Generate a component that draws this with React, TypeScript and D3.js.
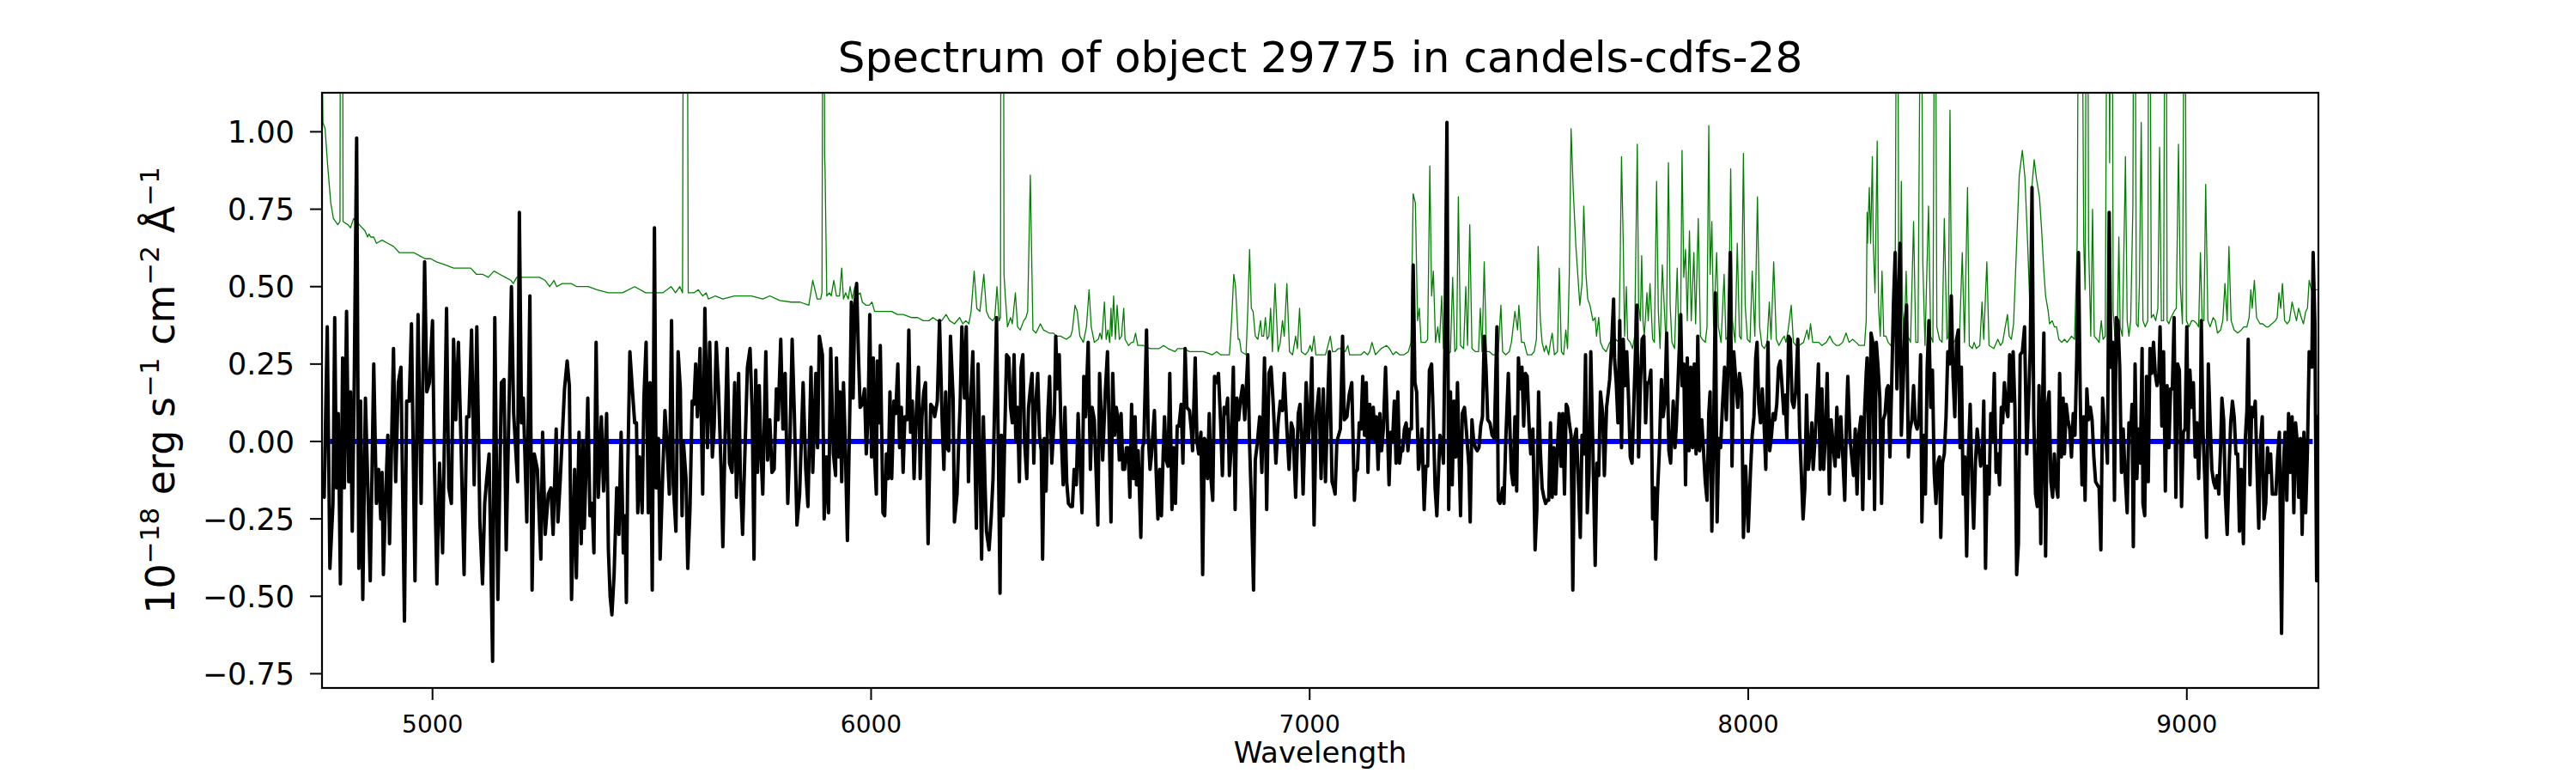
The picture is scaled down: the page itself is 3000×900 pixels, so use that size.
import React from "react";
import * as d3 from "d3";

// ---------- data (wavelength in Å, flux in 1e-18 erg/s/cm2/Å) ----------
const observedFlux: [number, number][] = [
  [4748,-0.10],[4753,-0.18],[4760,0.37],[4766,-0.41],[4773,-0.20],[4777,0.40],[4781,-0.15],[4785,0.09],[4790,-0.46],[4795,0.27],[4799,-0.15],[4804,0.42],[4809,-0.13],[4813,0.16],[4817,-0.29],[4821,0.12],[4827,0.98],[4832,-0.41],[4836,0.13],[4841,-0.51],[4847,0.14],[4852,-0.12],[4858,-0.45],[4866,0.25],[4872,-0.20],[4877,-0.09],[4882,-0.25],[4885,-0.10],[4888,-0.43],[4892,-0.23],[4898,0.02],[4902,-0.33],[4911,0.30],[4916,-0.13],[4922,0.19],[4928,0.24],[4936,-0.58],[4941,0.13],[4947,0.13],[4952,0.38],[4960,-0.45],[4967,0.41],[4974,-0.20],[4982,0.58],[4987,0.16],[4993,0.19],[5000,0.39],[5004,-0.05],[5010,-0.46],[5016,-0.07],[5023,-0.36],[5032,0.43],[5037,-0.15],[5043,-0.20],[5048,0.33],[5053,0.07],[5059,0.32],[5064,0.05],[5072,-0.43],[5078,0.08],[5083,0.08],[5089,0.36],[5095,-0.14],[5101,0.37],[5108,-0.26],[5114,-0.46],[5119,-0.20],[5123,-0.13],[5129,-0.04],[5137,-0.71],[5142,0.40],[5149,-0.51],[5157,0.19],[5163,0.20],[5168,-0.35],[5172,-0.06],[5180,0.50],[5185,0.09],[5194,-0.13],[5198,0.74],[5203,0.06],[5207,0.14],[5215,-0.26],[5222,0.47],[5227,-0.48],[5232,-0.04],[5239,-0.09],[5247,-0.38],[5251,0.03],[5257,-0.30],[5264,-0.17],[5270,-0.15],[5275,-0.30],[5282,0.04],[5286,-0.26],[5291,-0.13],[5301,0.17],[5307,0.26],[5312,0.18],[5317,-0.51],[5324,-0.09],[5328,-0.44],[5334,0.03],
  [5339,-0.33],[5343,0.00],[5346,-0.28],[5350,-0.09],[5354,0.14],[5359,-0.24],[5364,-0.20],[5368,-0.36],[5373,0.32],[5378,-0.18],[5385,0.08],[5390,-0.16],[5397,0.09],[5401,-0.35],[5405,-0.50],[5409,-0.56],[5414,-0.43],[5420,-0.15],[5425,-0.30],[5430,0.03],[5435,-0.36],[5439,-0.24],[5442,-0.52],[5445,-0.10],[5450,0.29],[5456,0.16],[5461,0.06],[5465,0.06],[5468,-0.23],[5472,-0.05],[5478,-0.23],[5482,0.14],[5487,0.32],[5492,-0.23],[5496,0.19],[5501,-0.48],[5506,0.69],[5510,-0.15],[5515,0.01],[5519,-0.38],[5525,-0.10],[5530,0.10],[5534,0.01],[5540,-0.17],[5545,0.39],[5549,-0.14],[5555,-0.29],[5560,0.29],[5565,0.17],[5569,-0.24],[5572,0.00],[5578,-0.12],[5582,-0.41],[5587,-0.22],[5592,0.13],[5596,0.12],[5600,0.25],[5604,0.08],[5610,0.30],[5616,-0.17],[5621,0.43],[5627,-0.02],[5632,0.32],[5638,-0.05],[5642,0.04],[5647,0.32],[5652,0.17],[5658,-0.09],[5662,-0.34],[5667,0.01],[5672,0.30],[5677,-0.07],[5683,-0.10],[5689,0.19],[5693,-0.18],[5698,0.22],[5702,-0.12],[5707,-0.30],[5711,-0.10],[5718,0.24],[5724,0.30],[5729,0.09],[5733,-0.38],[5737,0.23],[5741,-0.10],[5745,0.18],[5749,-0.04],[5753,-0.17],[5760,0.29],[5764,-0.06],[5769,0.07],[5774,-0.10],[5779,-0.09],[5784,0.17],[5788,0.07],[5794,0.33],[5799,0.04],[5804,0.22],[5810,-0.20],[5815,0.00],[5820,0.33],[5825,0.09],[5831,-0.27],[5837,-0.17],[5845,0.19],[5851,-0.09],[5856,-0.21],[5863,0.24],[5867,-0.10],[5874,0.22],[5878,-0.02],[5882,0.34],[5889,0.28],[5893,-0.25],[5898,-0.05],[5903,-0.23],[5908,0.30],[5914,-0.04],[5919,-0.11],[5921,0.27],
  [5926,-0.05],[5929,0.16],[5933,-0.13],[5937,0.19],[5941,0.00],[5946,-0.32],[5952,0.14],[5955,0.45],[5959,0.14],[5963,0.44],[5967,0.51],[5971,0.29],[5975,0.11],[5980,0.12],[5985,0.17],[5989,-0.04],[5993,0.08],[5997,0.41],[6001,-0.05],[6005,0.27],[6008,-0.05],[6012,-0.17],[6014,0.26],[6018,0.06],[6021,0.31],[6025,-0.04],[6027,-0.23],[6031,-0.24],[6035,-0.04],[6039,-0.12],[6043,0.16],[6047,-0.12],[6052,0.13],[6056,0.09],[6061,0.25],[6065,-0.02],[6069,0.11],[6073,-0.10],[6077,0.08],[6082,0.07],[6086,0.36],[6090,0.03],[6094,0.13],[6098,-0.12],[6103,0.09],[6108,0.24],[6112,-0.12],[6116,0.08],[6120,0.16],[6124,0.19],[6130,-0.33],[6136,0.12],[6141,0.11],[6145,0.08],[6151,0.13],[6156,0.39],[6162,0.07],[6166,-0.09],[6170,0.16],[6173,-0.02],[6177,-0.03],[6181,0.34],[6187,0.14],[6190,-0.26],[6196,-0.17],[6200,0.01],[6203,0.12],[6207,0.37],[6213,0.14],[6217,0.37],[6222,-0.13],[6227,0.13],[6232,0.29],[6236,0.01],[6240,-0.28],[6244,0.25],[6248,-0.05],[6252,-0.38],[6256,0.08],[6260,-0.15],[6263,-0.29],[6269,-0.35],[6274,-0.24],[6278,-0.12],[6282,0.14],[6286,0.40],[6290,-0.02],[6294,-0.49],[6297,0.02],[6301,-0.24],[6305,0.04],[6309,0.28],[6314,0.27],[6318,0.11],[6322,0.06],[6326,0.28],[6330,0.00],[6334,0.11],[6338,-0.13],[6342,0.24],[6346,0.28],[6350,0.00],[6355,-0.12],[6359,0.11],[6363,0.17],[6367,0.22],[6371,-0.07],[6374,0.09],[6380,0.22],[6384,0.02],[6388,-0.03],[6391,-0.38],[6395,0.01],[6399,-0.16],[6403,0.09],[6407,0.21],[6412,-0.07],[6418,0.09],[6421,0.34],[6425,0.17],[6429,0.28],[6433,0.04],[6438,-0.14],[6442,0.11],[6446,-0.13],[6450,-0.20],[6455,-0.21],[6459,-0.21],[6463,-0.09],[6468,-0.14],[6472,0.09],[6476,-0.05],[6481,-0.23],[6485,0.21],[6489,0.08],[6495,0.32],[6500,-0.09],[6504,0.11],[6509,0.07],
  [6513,-0.10],[6517,-0.27],[6521,0.22],[6525,0.08],[6528,-0.06],[6534,0.16],[6539,0.29],[6543,0.03],[6547,-0.26],[6551,0.22],[6555,0.02],[6559,0.11],[6562,0.08],[6566,-0.06],[6570,0.09],[6574,-0.09],[6578,-0.09],[6582,-0.02],[6586,-0.02],[6590,-0.18],[6594,0.12],[6598,-0.12],[6602,0.08],[6605,-0.14],[6609,-0.03],[6615,-0.31],[6619,-0.02],[6622,0.00],[6628,0.36],[6632,0.02],[6636,-0.09],[6639,-0.05],[6646,0.10],[6650,-0.10],[6654,-0.25],[6658,-0.09],[6662,-0.24],[6666,-0.04],[6669,0.08],[6673,-0.06],[6677,-0.08],[6681,0.22],[6686,-0.22],[6690,-0.02],[6694,-0.20],[6698,0.05],[6702,0.05],[6707,0.12],[6711,-0.07],[6716,0.30],[6720,0.11],[6726,0.10],[6730,0.04],[6733,-0.03],[6739,0.27],[6743,0.00],[6747,-0.04],[6752,0.03],[6756,-0.43],[6760,0.01],[6763,0.00],[6767,-0.12],[6771,0.09],[6775,-0.12],[6779,-0.19],[6783,0.21],[6788,0.19],[6792,0.22],[6797,0.06],[6801,-0.11],[6805,0.11],[6809,0.09],[6813,0.14],[6817,-0.11],[6821,-0.02],[6826,0.24],[6830,-0.22],[6834,0.14],[6838,0.07],[6842,0.13],[6847,0.18],[6852,0.07],[6859,0.28],[6863,-0.01],[6867,-0.19],[6872,-0.48],[6876,-0.06],[6881,0.00],[6886,0.08],[6891,-0.10],[6897,0.27],[6902,-0.22],[6907,0.22],[6912,0.24],[6917,0.12],[6923,-0.07],[6928,0.06],[6933,0.13],[6938,0.10],[6942,0.22],[6948,0.04],[6953,-0.09],[6958,0.06],[6962,0.04],[6968,-0.18],[6974,0.09],[6978,0.12],[6981,0.03],[6985,-0.17],[6992,0.19],[6997,0.00],[7001,0.09],[7005,0.27],[7010,-0.27],[7015,0.08],[7021,0.17],[7026,-0.12],[7031,0.17],[7036,-0.13],[7042,0.17],[7045,0.29],[7051,-0.13],[7055,-0.15],[7058,-0.17],[7062,0.00],[7066,0.02],[7070,0.04],[7075,0.34],[7079,0.07],[7085,0.08],[7090,0.15],[7096,0.19],
  [7102,-0.19],[7105,-0.10],[7109,-0.09],[7113,0.06],[7117,0.04],[7121,0.21],[7125,0.02],[7129,0.19],[7133,-0.10],[7137,0.12],[7141,0.01],[7145,0.11],[7149,0.00],[7152,0.08],[7156,-0.09],[7160,0.09],[7164,-0.03],[7168,0.04],[7173,0.24],[7177,0.06],[7181,-0.14],[7185,0.03],[7189,0.00],[7193,0.13],[7197,-0.07],[7201,0.16],[7205,-0.07],[7209,-0.02],[7212,-0.03],[7216,0.04],[7220,0.06],[7224,-0.03],[7228,0.04],[7232,0.04],[7236,0.57],[7240,0.19],[7244,0.16],[7248,-0.09],[7252,-0.05],[7256,0.04],[7261,-0.22],[7265,-0.08],[7269,-0.08],[7273,0.23],[7278,0.25],[7282,0.07],[7286,-0.15],[7290,-0.24],[7293,-0.13],[7297,0.02],[7301,0.00],[7305,-0.07],[7309,0.39],[7313,1.03],[7317,-0.22],[7321,0.16],[7325,-0.14],[7329,0.13],[7333,-0.05],[7337,0.19],[7340,0.00],[7344,-0.24],[7348,0.09],[7353,0.11],[7357,0.04],[7363,-0.08],[7366,-0.26],[7370,0.07],[7374,0.00],[7378,-0.02],[7382,-0.03],[7386,-0.02],[7390,0.05],[7394,0.08],[7398,0.34],[7402,0.24],[7406,0.07],[7411,0.06],[7416,0.02],[7421,0.01],[7427,0.37],[7430,-0.19],[7434,-0.20],[7440,-0.15],[7443,-0.20],[7447,0.00],[7453,0.22],[7457,0.02],[7460,-0.10],[7464,-0.14],[7468,0.08],[7472,-0.16],[7476,0.27],[7480,0.17],[7484,0.24],[7488,0.05],[7492,0.22],[7496,0.21],[7500,0.06],[7504,-0.04],[7509,0.04],[7514,-0.35],[7518,-0.22],[7522,0.16],[7526,-0.03],[7530,-0.15],[7534,-0.18],[7538,-0.20],[7541,-0.19],[7545,-0.19],[7549,0.06],[7553,-0.18],[7557,-0.02],[7561,-0.17],[7565,-0.02],[7569,0.09],[7573,-0.08],[7577,0.09],[7581,-0.17],[7585,0.12],[7588,0.11],[7592,0.06],[7596,0.02],[7600,-0.48],[7604,0.01],[7608,0.04],[7612,-0.10],[7617,-0.31],[7621,0.02],[7625,-0.04],[7629,0.28],[7633,-0.23],[7637,-0.10],[7641,0.29],[7646,-0.04],[7651,-0.40],[7655,-0.07],[7659,-0.11],[7663,0.16],[7668,0.09],[7672,-0.11],[7677,0.11],[7684,0.20],
  [7689,0.33],[7693,0.46],[7695,0.27],[7699,0.19],[7703,0.06],[7707,0.39],[7711,-0.02],[7715,0.33],[7719,0.18],[7723,0.29],[7727,0.14],[7731,-0.05],[7735,-0.07],[7739,0.12],[7742,0.25],[7746,0.44],[7750,-0.05],[7754,0.18],[7758,0.33],[7762,0.34],[7766,0.06],[7770,0.19],[7774,0.19],[7778,0.23],[7782,-0.25],[7786,-0.15],[7789,-0.38],[7793,-0.17],[7797,-0.04],[7802,0.20],[7806,0.08],[7810,0.13],[7814,0.35],[7819,-0.03],[7823,-0.07],[7829,0.13],[7833,-0.02],[7836,0.05],[7842,0.27],[7846,0.41],[7849,0.18],[7853,0.25],[7857,-0.14],[7861,0.27],[7865,-0.03],[7869,0.24],[7873,-0.02],[7877,0.25],[7881,-0.04],[7885,0.34],[7889,-0.03],[7894,0.07],[7898,-0.03],[7902,-0.13],[7906,-0.19],[7910,0.09],[7913,0.16],[7917,-0.29],[7921,0.02],[7925,0.48],[7929,-0.26],[7933,0.01],[7937,-0.02],[7941,0.11],[7946,0.24],[7950,0.07],[7954,0.24],[7959,0.61],[7963,-0.08],[7967,0.29],[7971,0.21],[7976,0.11],[7980,0.22],[7985,0.16],[7989,-0.31],[7994,-0.08],[8000,-0.29],[8005,-0.10],[8009,0.02],[8013,0.08],[8017,0.27],[8020,0.32],[8024,0.12],[8028,0.06],[8032,0.17],[8036,0.06],[8040,-0.09],[8045,0.32],[8049,-0.03],[8053,0.02],[8057,0.09],[8061,0.07],[8065,0.12],[8069,0.24],[8073,0.26],[8077,0.18],[8081,0.09],[8084,0.15],[8088,0.01],[8092,0.34],[8096,0.33],[8100,0.13],[8104,0.11],[8108,0.16],[8113,0.33],[8117,0.04],[8121,-0.10],[8125,-0.25],[8129,-0.15],[8133,0.15],[8137,-0.09],[8141,-0.03],[8145,0.06],[8148,-0.09],[8152,0.00],[8156,0.11],[8160,0.25],[8164,-0.09],[8168,0.17],[8172,-0.09],[8176,0.02],[8180,0.22],[8185,-0.17],[8189,0.07],[8194,-0.02],[8198,-0.08],[8202,0.11],[8206,-0.05],[8211,0.08],[8215,-0.03],[8220,-0.19],[8224,0.08],[8227,0.21],[8232,0.01],[8236,-0.05],[8240,-0.11],[8244,0.04],[8248,-0.17],[8252,0.02],[8257,0.08],[8261,-0.22],[8265,0.09],[8269,0.22],[8271,0.27],
  [8276,-0.12],[8280,0.35],[8284,0.32],[8288,-0.22],[8292,0.32],[8296,0.24],[8300,0.14],[8304,-0.20],[8308,0.07],[8312,0.09],[8316,0.17],[8319,0.18],[8323,-0.05],[8327,0.18],[8331,0.44],[8335,0.61],[8339,0.17],[8343,0.47],[8346,0.64],[8349,0.02],[8353,0.17],[8357,0.37],[8361,0.44],[8365,-0.05],[8369,0.04],[8373,0.07],[8377,0.18],[8381,0.06],[8385,0.04],[8389,0.07],[8393,0.28],[8396,-0.26],[8400,0.02],[8404,-0.17],[8408,0.24],[8412,0.39],[8416,0.11],[8420,0.23],[8424,-0.10],[8428,-0.20],[8432,-0.07],[8436,-0.05],[8439,-0.31],[8443,-0.07],[8447,-0.04],[8451,0.08],[8455,0.29],[8459,0.25],[8463,0.47],[8467,0.21],[8471,0.08],[8475,0.33],[8479,0.36],[8483,-0.02],[8486,0.24],[8490,-0.17],[8494,-0.05],[8498,-0.37],[8502,-0.04],[8506,0.12],[8510,-0.12],[8514,-0.28],[8518,-0.07],[8522,0.04],[8526,-0.02],[8530,-0.08],[8534,-0.04],[8537,0.13],[8541,-0.41],[8545,-0.08],[8549,-0.17],[8553,0.09],[8557,0.00],[8561,0.22],[8565,-0.10],[8569,-0.04],[8573,-0.14],[8577,0.11],[8580,0.06],[8584,0.19],[8588,0.11],[8592,0.08],[8596,0.28],[8600,0.13],[8604,0.29],[8608,0.11],[8612,-0.43],[8616,-0.33],[8620,0.28],[8625,0.29],[8630,0.37],[8635,-0.04],[8639,0.12],[8643,0.30],[8647,0.82],[8651,0.08],[8655,-0.17],[8659,-0.21],[8663,0.18],[8667,-0.33],[8671,0.12],[8674,0.35],[8678,-0.37],[8682,0.11],[8686,0.16],[8690,-0.13],[8694,-0.18],[8698,-0.04],[8702,-0.14],[8706,-0.18],[8710,0.22],[8714,-0.05],[8718,0.14],[8721,-0.04],[8725,0.12],[8729,0.07],[8733,0.04],[8737,-0.05],[8741,0.09],[8745,0.02],[8749,0.27],[8753,0.61],[8757,0.14],[8761,-0.14],[8765,0.08],[8768,-0.19],[8772,0.17],[8776,0.07],[8780,0.11],[8784,0.07],[8788,-0.05],[8792,-0.13],[8796,-0.14],[8800,-0.15],[8804,-0.35],[8808,0.14],[8812,0.04],[8815,0.03],[8819,-0.07],[8823,0.74],[8827,0.24],[8831,0.32],[8835,-0.19],[8839,0.40],[8843,0.39],[8847,0.24],[8851,-0.10],[8855,0.04],[8859,-0.10],
  [8864,-0.23],[8868,0.06],[8872,0.02],[8875,0.12],[8878,-0.34],[8882,0.25],[8886,-0.12],[8890,0.04],[8894,-0.07],[8898,0.30],[8900,-0.20],[8904,-0.24],[8908,0.21],[8912,-0.13],[8916,0.30],[8920,0.22],[8924,0.32],[8928,0.22],[8932,0.18],[8936,0.21],[8939,0.37],[8943,0.05],[8947,0.29],[8951,-0.16],[8955,0.18],[8959,-0.02],[8963,0.17],[8967,0.17],[8971,0.40],[8975,-0.18],[8979,0.25],[8983,0.23],[8988,-0.21],[8992,0.03],[8996,0.04],[9000,0.37],[9003,0.00],[9007,0.23],[9011,0.11],[9015,0.19],[9019,-0.05],[9023,0.06],[9027,-0.12],[9031,0.08],[9033,0.39],[9037,0.03],[9041,-0.12],[9045,-0.31],[9049,0.25],[9053,0.07],[9057,-0.09],[9061,-0.13],[9065,-0.15],[9069,-0.11],[9073,-0.17],[9077,-0.02],[9080,0.14],[9084,0.07],[9088,-0.18],[9092,-0.30],[9096,-0.10],[9100,0.06],[9104,0.13],[9108,0.08],[9112,-0.04],[9116,-0.04],[9120,-0.29],[9124,-0.09],[9129,-0.33],[9133,0.00],[9137,0.10],[9140,0.33],[9144,-0.14],[9148,0.11],[9152,0.08],[9156,0.13],[9160,-0.09],[9164,-0.28],[9168,0.00],[9172,0.08],[9176,-0.25],[9180,-0.20],[9184,-0.02],[9187,-0.10],[9191,-0.04],[9195,-0.17],[9199,-0.17],[9203,-0.17],[9207,-0.05],[9211,0.03],[9216,-0.62],[9220,-0.09],[9224,0.03],[9228,-0.19],[9232,0.09],[9236,-0.10],[9240,0.08],[9244,-0.23],[9248,0.06],[9251,0.01],[9255,-0.18],[9259,0.01],[9263,-0.30],[9267,0.03],[9271,-0.23],[9275,-0.03],[9279,0.29],[9283,0.27],[9285,0.24],[9288,0.61],[9292,0.38],[9296,-0.45],[9298,0.08],[9300,-0.35],
];

const noiseSpectrum: [number, number][] = [
  [4748,1.30],[4750,1.03],[4755,1.01],[4761,0.89],[4768,0.77],[4774,0.72],[4784,0.70],[4789,0.71],[4790,1.6],[4795,1.6],[4796,0.71],[4807,0.70],[4813,0.69],[4820,0.72],[4833,0.70],[4846,0.68],[4852,0.66],[4855,0.67],[4859,0.66],[4866,0.66],[4872,0.64],[4885,0.65],[4898,0.64],[4911,0.63],[4924,0.61],[4944,0.61],[4957,0.61],[4970,0.60],[4983,0.59],[4996,0.59],[5009,0.58],[5029,0.57],[5048,0.56],[5074,0.56],[5087,0.56],[5100,0.54],[5114,0.54],[5127,0.53],[5140,0.55],[5153,0.54],[5166,0.53],[5179,0.52],[5184,0.51],[5192,0.53],[5205,0.53],[5218,0.53],[5231,0.53],[5244,0.53],[5257,0.52],[5267,0.50],[5277,0.52],[5283,0.50],[5296,0.51],[5316,0.51],[5329,0.50],
  [5335,0.50],[5355,0.50],[5375,0.49],[5401,0.48],[5433,0.48],[5461,0.50],[5486,0.48],[5525,0.48],[5544,0.50],[5554,0.48],[5564,0.50],[5570,0.48],[5572,1.6],[5581,1.6],[5583,0.48],[5587,0.48],[5596,0.48],[5606,0.49],[5616,0.47],[5624,0.48],[5629,0.46],[5645,0.47],[5662,0.46],[5688,0.47],[5701,0.47],[5727,0.47],[5753,0.46],[5769,0.47],[5792,0.455],[5818,0.45],[5838,0.45],[5858,0.44],[5867,0.52],[5877,0.46],[5885,0.46],[5888,0.48],[5890,1.6],[5893,1.6],[5894,0.92],[5895,0.88],[5899,0.47],[5905,0.48],[5909,0.47],[5915,0.52],[5921,0.47],
  [5928,0.47],[5933,0.56],[5937,0.46],[5942,0.48],[5948,0.46],[5952,0.50],[5957,0.46],[5963,0.50],[5968,0.47],[5975,0.48],[5980,0.45],[5988,0.44],[5996,0.44],[6002,0.45],[6008,0.42],[6021,0.42],[6034,0.42],[6047,0.42],[6060,0.41],[6073,0.41],[6093,0.40],[6106,0.40],[6119,0.39],[6132,0.39],[6141,0.40],[6151,0.39],[6161,0.39],[6171,0.41],[6179,0.39],[6190,0.38],[6202,0.40],[6209,0.38],[6216,0.39],[6223,0.38],[6228,0.42],[6235,0.55],[6241,0.43],[6248,0.42],[6257,0.54],[6263,0.42],[6269,0.40],[6277,0.39],[6282,0.40],[6287,0.50],[6292,0.39],[6295,0.40],[6296,1.6],[6302,1.6],[6303,0.54],[6306,0.47],[6311,0.37],[6318,0.40],[6322,0.38],[6329,0.48],[6334,0.37],[6340,0.36],[6348,0.39],[6353,0.40],[6357,0.42],[6363,0.86],[6369,0.36],[6376,0.35],[6386,0.38],[6393,0.36],[6406,0.35],[6416,0.35],[6422,0.34],[6432,0.34],[6445,0.33],[6455,0.34],[6459,0.36],[6465,0.44],[6470,0.42],[6476,0.34],[6484,0.32],[6491,0.37],[6497,0.49],[6502,0.37],[6509,0.32],
  [6518,0.33],[6522,0.35],[6526,0.33],[6532,0.45],[6536,0.33],[6540,0.36],[6544,0.32],[6547,0.43],[6549,0.34],[6553,0.47],[6557,0.33],[6561,0.44],[6566,0.33],[6571,0.34],[6576,0.43],[6579,0.33],[6587,0.31],[6594,0.32],[6598,0.32],[6603,0.35],[6608,0.31],[6621,0.31],[6636,0.30],[6647,0.30],[6657,0.30],[6667,0.31],[6677,0.30],[6693,0.29],[6699,0.30],[6713,0.30],[6726,0.29],[6739,0.29],[6758,0.29],[6778,0.28],[6788,0.29],[6797,0.28],[6817,0.28],[6822,0.39],[6827,0.54],[6831,0.50],[6837,0.33],[6840,0.33],[6844,0.29],[6855,0.28],[6859,0.43],[6863,0.62],[6867,0.43],[6871,0.42],[6876,0.34],[6882,0.33],[6888,0.39],[6891,0.34],[6895,0.34],[6899,0.40],[6903,0.33],[6907,0.34],[6911,0.43],[6915,0.29],[6921,0.51],[6928,0.29],[6933,0.32],[6938,0.39],[6942,0.34],[6948,0.51],[6954,0.29],[6961,0.28],[6968,0.34],[6972,0.30],[6977,0.43],[6981,0.29],[6990,0.28],[6996,0.29],[7001,0.31],[7005,0.29],[7010,0.34],[7014,0.28],[7026,0.28],[7036,0.28],[7040,0.30],[7047,0.34],[7052,0.29],[7058,0.29],[7065,0.30],[7072,0.30],[7081,0.29],[7087,0.31],[7091,0.28],[7096,0.28],
  [7111,0.28],[7117,0.28],[7124,0.29],[7132,0.28],[7137,0.29],[7142,0.32],[7150,0.28],[7163,0.30],[7175,0.31],[7182,0.30],[7190,0.28],[7197,0.29],[7205,0.28],[7215,0.28],[7225,0.29],[7231,0.32],[7236,0.80],[7241,0.77],[7246,0.39],[7250,0.43],[7254,0.32],[7264,0.32],[7269,0.33],[7274,0.89],[7278,0.47],[7282,0.55],[7287,0.32],[7292,0.37],[7296,0.32],[7301,0.47],[7305,0.30],[7312,0.32],[7316,0.28],[7321,0.29],[7326,0.53],[7331,0.29],[7335,0.30],[7339,0.79],[7344,0.31],[7351,0.30],[7356,0.50],[7360,0.31],[7365,0.70],[7370,0.30],[7378,0.29],[7385,0.29],[7389,0.43],[7393,0.29],[7398,0.58],[7403,0.29],[7410,0.29],[7417,0.28],[7424,0.28],[7430,0.29],[7436,0.44],[7440,0.29],[7447,0.28],[7455,0.29],[7460,0.32],[7468,0.42],[7474,0.36],[7477,0.44],[7483,0.32],[7489,0.32],[7496,0.28],[7506,0.28],[7512,0.29],[7517,0.33],[7521,0.63],[7526,0.39],[7530,0.32],[7535,0.29],[7539,0.31],[7545,0.28],[7549,0.32],[7553,0.35],[7558,0.28],[7565,0.29],[7569,0.56],[7574,0.29],[7579,0.28],[7584,0.36],[7588,0.30],[7592,0.54],[7596,1.01],[7601,0.81],[7607,0.63],[7616,0.44],[7621,0.51],[7625,0.76],[7630,0.54],[7634,0.46],[7639,0.44],[7646,0.39],[7651,0.40],[7654,0.34],[7659,0.40],[7663,0.32],[7669,0.30],[7676,0.29],[7684,0.32],
  [7692,0.32],[7698,0.33],[7705,0.32],[7708,0.58],[7711,0.92],[7715,0.64],[7718,0.34],[7722,0.50],[7725,0.33],[7731,0.32],[7736,0.30],[7741,0.34],[7747,0.96],[7750,0.44],[7754,0.39],[7757,0.60],[7760,0.39],[7763,0.34],[7769,0.48],[7772,0.39],[7776,0.51],[7782,0.33],[7786,0.32],[7791,0.84],[7795,0.42],[7799,0.30],[7804,0.57],[7809,0.42],[7813,0.30],[7818,0.90],[7822,0.44],[7826,0.32],[7832,0.30],[7838,0.56],[7842,0.30],[7846,0.40],[7849,0.94],[7853,0.53],[7857,0.62],[7861,0.39],[7866,0.68],[7870,0.39],[7876,0.61],[7880,0.38],[7886,0.72],[7891,0.34],[7895,0.33],[7902,0.32],[7906,0.37],[7910,1.02],[7913,0.54],[7917,0.71],[7921,0.37],[7928,0.61],[7932,0.37],[7938,0.32],[7945,0.54],[7949,0.33],[7955,0.34],[7960,0.88],[7964,0.39],[7970,0.32],[7975,0.64],[7980,0.34],[7984,0.33],[7989,0.93],[7993,0.44],[7998,0.33],[8004,0.32],[8009,0.55],[8015,0.34],[8021,0.79],[8026,0.37],[8031,0.31],[8037,0.30],[8043,0.32],[8048,0.45],[8052,0.33],[8058,0.58],[8064,0.33],[8070,0.31],[8077,0.33],[8082,0.34],[8086,0.32],[8091,0.36],[8098,0.44],[8103,0.32],[8109,0.31],[8116,0.31],[8126,0.32],[8134,0.36],[8138,0.33],[8142,0.38],[8147,0.32],[8155,0.32],[8161,0.32],[8168,0.31],[8178,0.32],[8186,0.34],[8193,0.32],[8201,0.31],[8207,0.31],[8215,0.32],[8223,0.35],[8230,0.32],[8238,0.33],[8246,0.32],[8253,0.31],[8265,0.31],[8269,0.39],[8271,0.74],
  [8272,0.64],[8276,0.82],[8279,0.64],[8283,0.92],[8285,0.64],[8289,0.48],[8294,0.97],[8297,0.44],[8301,0.34],[8305,0.55],[8309,0.34],[8314,0.34],[8319,0.32],[8325,0.31],[8330,0.33],[8335,0.51],[8338,1.6],[8341,1.6],[8343,0.58],[8346,0.39],[8349,0.84],[8352,0.42],[8356,0.33],[8360,0.55],[8364,0.34],[8370,0.32],[8377,0.71],[8382,0.32],[8387,0.32],[8393,1.6],[8395,1.6],[8398,0.58],[8403,0.31],[8411,0.76],[8416,0.34],[8421,0.32],[8425,1.6],[8427,1.6],[8430,0.37],[8436,0.33],[8442,0.32],[8447,0.72],[8453,0.33],[8456,0.34],[8460,1.07],[8464,0.34],[8468,0.32],[8475,0.33],[8481,0.31],[8488,0.61],[8493,0.32],[8500,0.82],[8504,0.31],[8511,0.30],[8515,0.32],[8520,0.30],[8528,0.31],[8533,0.45],[8537,0.33],[8544,0.58],[8549,0.31],[8560,0.30],[8569,0.33],[8575,0.31],[8580,0.32],[8586,0.37],[8591,0.41],[8595,0.34],[8600,0.33],[8605,0.38],[8612,0.64],[8618,0.86],[8625,0.94],[8631,0.85],[8637,0.64],[8642,0.44],[8646,0.81],[8652,0.91],[8657,0.85],[8664,0.79],[8669,0.68],[8674,0.55],[8678,0.47],[8684,0.42],[8687,0.38],[8693,0.39],[8698,0.37],[8703,0.37],[8708,0.33],[8715,0.32],[8721,0.33],[8727,0.32],[8732,0.33],[8737,0.34],[8744,0.33],[8750,0.64],[8753,1.6],[8755,1.6],[8758,1.6],[8761,1.6],[8765,0.64],[8768,0.49],[8771,1.6],[8774,1.6],[8776,0.64],[8781,0.34],[8785,0.75],[8789,0.34],[8795,0.33],[8800,0.32],[8805,0.39],[8809,0.33],[8814,0.34],[8818,1.6],[8822,1.6],[8824,0.9],[8826,1.6],[8830,1.6],[8832,0.42],[8836,0.34],[8842,0.39],[8845,0.66],[8848,0.37],[8853,0.34],[8859,0.82],
  [8860,0.92],[8864,0.39],[8868,0.34],[8872,0.39],[8877,0.76],[8879,1.6],[8882,1.6],[8885,0.38],[8889,0.37],[8892,0.51],[8896,1.03],[8900,0.39],[8905,0.37],[8911,0.39],[8913,1.6],[8916,1.6],[8919,0.40],[8924,0.41],[8929,0.39],[8934,0.43],[8938,0.95],[8942,0.39],[8947,0.39],[8950,1.6],[8953,1.6],[8955,0.39],[8959,0.38],[8964,0.40],[8971,0.42],[8976,0.43],[8981,0.96],[8985,0.51],[8990,0.38],[8994,1.6],[8996,1.6],[8999,0.39],[9005,0.37],[9011,0.39],[9016,0.39],[9023,0.38],[9027,0.37],[9031,0.61],[9035,0.39],[9039,0.39],[9043,0.83],[9048,0.39],[9053,0.37],[9060,0.40],[9065,0.39],[9070,0.35],[9077,0.36],[9082,0.39],[9087,0.51],[9092,0.39],[9096,0.63],[9101,0.39],[9108,0.36],[9116,0.35],[9124,0.36],[9130,0.37],[9137,0.37],[9142,0.40],[9146,0.49],[9149,0.43],[9154,0.52],[9159,0.40],[9167,0.38],[9173,0.38],[9181,0.37],[9186,0.37],[9194,0.38],[9202,0.39],[9206,0.40],[9210,0.48],[9214,0.43],[9218,0.51],[9223,0.39],[9229,0.38],[9234,0.39],[9240,0.45],[9245,0.42],[9250,0.39],[9255,0.43],[9261,0.40],[9266,0.38],[9271,0.42],[9275,0.43],[9279,0.52],[9284,0.49],[9291,0.49],[9297,0.49],[9300,0.49],
];

const modelFlux: [number, number][] = [[4766, 0], [9287, 0]];

const yLimits: [number, number] = [-0.796, 1.126];
const yTicks = [-0.75, -0.5, -0.25, 0, 0.25, 0.5, 0.75, 1.0];
const xTicks = [5000, 6000, 7000, 8000, 9000];

const titleText = "Spectrum of object 29775 in candels-cdfs-28";
const xLabelText = "Wavelength";

// ---------- layout ----------
const W = 3000, H = 900;
const M = { left: 375, right: 2700, top: 108, bottom: 801 };
const FONT = "'DejaVu Sans', sans-serif";

export default function App() {
  const x = d3.scaleLinear()
    .domain(d3.extent(observedFlux, (d) => d[0]) as [number, number])
    .range([M.left, M.right]);
  const y = d3.scaleLinear().domain(yLimits).range([M.bottom, M.top]);
  const line = d3.line<[number, number]>().x((d) => x(d[0])).y((d) => y(d[1]));
  const fmtY = (v: number) => d3.format(".2f")(v).replace("-", "\u2212");
  const cx = (M.left + M.right) / 2;
  const cy = (M.top + M.bottom) / 2;

  return (
    <svg width={W} height={H} style={{ position: "absolute", left: 0, top: 0, background: "#fff" }}
      fontFamily={FONT}>
      <rect x={0} y={0} width={W} height={H} fill="#fff" />
      <defs>
        <clipPath id="plot-clip">
          <rect x={M.left} y={M.top} width={M.right - M.left} height={M.bottom - M.top} />
        </clipPath>
      </defs>
      <g clipPath="url(#plot-clip)">
        <path d={line(noiseSpectrum) || ""} fill="none" stroke="#008000" strokeWidth={1.3} strokeLinejoin="round" />
        <path d={line(modelFlux) || ""} fill="none" stroke="#0000ff" strokeWidth={6} />
        <path d={line(observedFlux) || ""} fill="none" stroke="#000" strokeWidth={4} strokeLinejoin="round" />
      </g>
      <rect x={M.left} y={M.top} width={M.right - M.left} height={M.bottom - M.top}
        fill="none" stroke="#000" strokeWidth={2.2} />
      {yTicks.map((t) => (
        <g key={"y" + t}>
          <line x1={M.left - 14} x2={M.left} y1={y(t)} y2={y(t)} stroke="#000" strokeWidth={2} />
          <text x={M.left - 32} y={y(t)} dy="0.36em" textAnchor="end" fontSize={35}>{fmtY(t)}</text>
        </g>
      ))}
      {xTicks.map((t) => (
        <g key={"x" + t}>
          <line x1={x(t)} x2={x(t)} y1={M.bottom} y2={M.bottom + 14} stroke="#000" strokeWidth={2} />
          <text x={x(t)} y={853} textAnchor="middle" fontSize={28}>{t}</text>
        </g>
      ))}
      <text x={cx} y={84} textAnchor="middle" fontSize={50}>{titleText}</text>
      <text x={cx} y={888} textAnchor="middle" fontSize={34}>{xLabelText}</text>
      <text transform={`translate(203, ${cy}) rotate(-90)`} textAnchor="middle" fontSize={46}>
        <tspan>10</tspan>
        <tspan fontSize={31} dy={-18}>{"\u221218"}</tspan>
        <tspan dy={18}>{" erg s"}</tspan>
        <tspan fontSize={31} dy={-18}>{"\u22121"}</tspan>
        <tspan dy={18}>{" cm"}</tspan>
        <tspan fontSize={31} dy={-18}>{"\u22122"}</tspan>
        <tspan dy={18}>{" \u00c5"}</tspan>
        <tspan fontSize={31} dy={-18}>{"\u22121"}</tspan>
      </text>
    </svg>
  );
}
